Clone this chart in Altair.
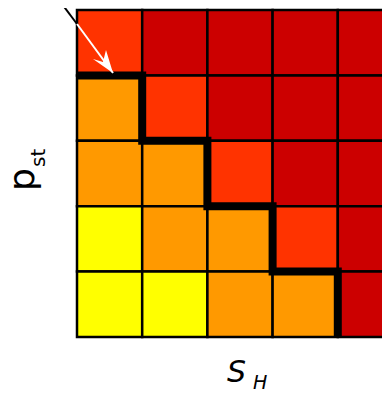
import altair as alt
import pandas as pd

# colour level of each cell, rows listed from top to bottom, columns left to right
row0 = [2, 3, 3, 3, 3]
row1 = [1, 2, 3, 3, 3]
row2 = [1, 1, 2, 3, 3]
row3 = [0, 1, 1, 2, 3]
row4 = [0, 0, 1, 1, 3]
level_colors = ["#FFFF00", "#FF9900", "#FF3300", "#CC0000"]

# staircase boundary (cell units)
stair_x = [0, 1, 1, 2, 2, 3, 3, 4, 4]
stair_y = [4, 4, 3, 3, 2, 2, 1, 1, 0]

# arrow (cell units): black part outside the grid, white part inside
arrow_black_x = [-0.276, 0.0]
arrow_black_y = [5.153, 4.786]
arrow_white_x = [0.0, 0.552]
arrow_white_y = [4.786, 4.037]

rows = [row0, row1, row2, row3, row4]
recs = []
for r, row in enumerate(rows):
    for c, lv in enumerate(row):
        recs.append({"x": c, "x2": c + 1, "y": 4 - r, "y2": 5 - r, "level": lv})
cells_df = pd.DataFrame(recs)

W = 305
H = 327
xs = alt.Scale(domain=[0, W / 65.2], nice=False, zero=False)
ys = alt.Scale(domain=[0, 5], nice=False, zero=False)

cells = alt.Chart(cells_df).mark_rect(stroke="black", strokeWidth=2.5).encode(
    x=alt.X("x:Q", scale=xs, axis=None),
    x2="x2:Q",
    y=alt.Y("y:Q", scale=ys, axis=None),
    y2="y2:Q",
    color=alt.Color("level:O", scale=alt.Scale(domain=[0, 1, 2, 3], range=level_colors), legend=None),
)

stair_df = pd.DataFrame({"x": stair_x, "y": stair_y, "o": list(range(len(stair_x)))})
stair = alt.Chart(stair_df).mark_line(color="black", strokeWidth=8, strokeJoin="miter", strokeCap="butt").encode(
    x=alt.X("x:Q", scale=xs), y=alt.Y("y:Q", scale=ys), order="o:Q"
)

ab = pd.DataFrame({"x": arrow_black_x, "y": arrow_black_y, "o": [0, 1]})
arrow_b = alt.Chart(ab).mark_line(color="black", strokeWidth=2).encode(
    x=alt.X("x:Q", scale=xs), y=alt.Y("y:Q", scale=ys), order="o:Q"
)
aw = pd.DataFrame({"x": arrow_white_x, "y": arrow_white_y, "o": [0, 1]})
arrow_w = alt.Chart(aw).mark_line(color="white", strokeWidth=2).encode(
    x=alt.X("x:Q", scale=xs), y=alt.Y("y:Q", scale=ys), order="o:Q"
)
head_df = pd.DataFrame({"x": [arrow_white_x[-1]], "y": [arrow_white_y[-1]]})
head = alt.Chart(head_df).mark_point(
    shape="M0,0 L-20,-14 L-10,-11 L-7,-23 Z", size=4, filled=True, fill="white", opacity=1, strokeWidth=0
).encode(x=alt.X("x:Q", scale=xs), y=alt.Y("y:Q", scale=ys))

one = pd.DataFrame({"a": [0]})
FONT = "DejaVu Sans"
p_lbl = alt.Chart(one).mark_text(text="p", font=FONT, fontSize=36, angle=270, align="left", baseline="alphabetic", color="black").encode(
    x=alt.value(-43), y=alt.value(181)
)
st_lbl = alt.Chart(one).mark_text(text="st", font=FONT, fontSize=20, angle=270, align="left", baseline="alphabetic", color="black").encode(
    x=alt.value(-32), y=alt.value(157)
)
s_lbl = alt.Chart(one).mark_text(text="S", font=FONT, fontSize=30, fontStyle="italic", align="left", baseline="alphabetic", color="black").encode(
    x=alt.value(150), y=alt.value(372)
)
h_lbl = alt.Chart(one).mark_text(text="H", font=FONT, fontSize=19, fontStyle="italic", align="left", baseline="alphabetic", color="black").encode(
    x=alt.value(176), y=alt.value(379)
)

chart = alt.layer(cells, stair, arrow_b, arrow_w, head, p_lbl, st_lbl, s_lbl, h_lbl).properties(
    width=W, height=H,
    padding={"left": 69, "top": 2, "right": 0, "bottom": 53},
    autosize=alt.AutoSizeParams(type="none"),
    background="white",
).configure_view(stroke=None)

chart.save("out.html", embed_options={"renderer": "svg", "actions": False})
